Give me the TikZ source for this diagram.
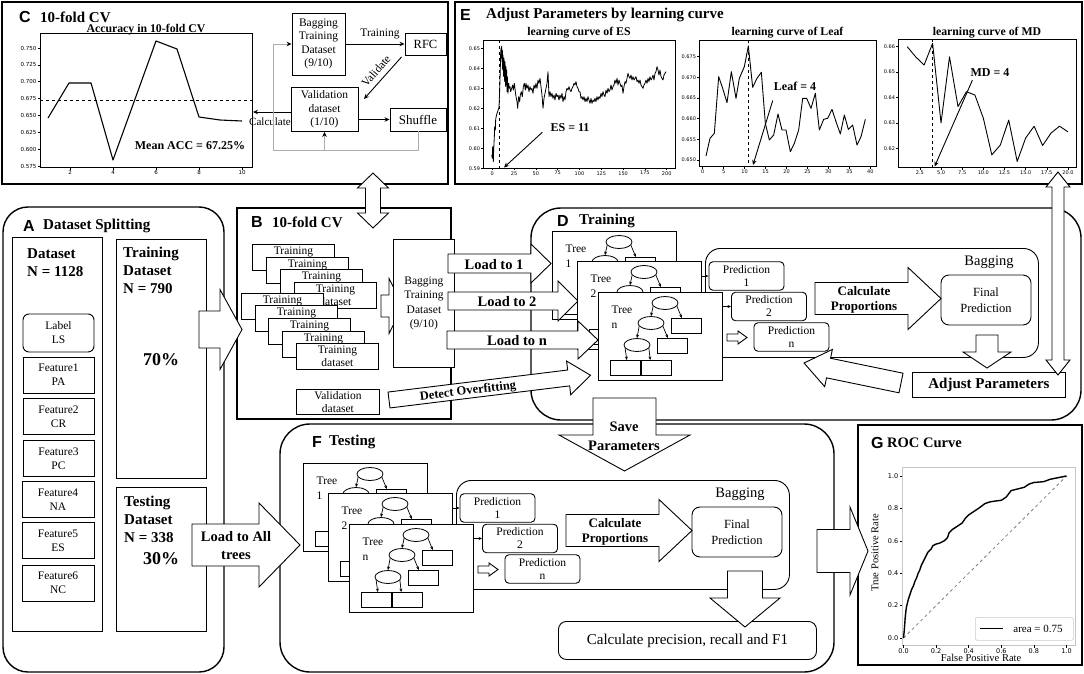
\documentclass[tikz,border=0pt]{standalone}
\usepackage{fontspec}
\setmainfont{Liberation Serif}
\newfontfamily\lsans{Liberation Sans}
\newfontfamily\djv{DejaVu Sans}
\usetikzlibrary{shapes.geometric, arrows.meta}
\newcommand\fsz[2]{\fontsize{#1}{#2}\selectfont}
\tikzset{
  bx/.style={draw, line width=0.9pt, fill=white, inner sep=0pt, align=center},
  pnl/.style={draw, line width=1.4pt},
  lettr/.style={font=\lsans\bfseries\fsz{16}{18}, inner sep=0pt, anchor=west},
  ttl/.style={font=\bfseries\fsz{15}{18}, inner sep=0pt, anchor=west},
  tx/.style={inner sep=0pt, align=center},
  arr/.style={-{Stealth[length=5pt,width=4.5pt]}, line width=0.9pt},
  tarr/.style={-{Stealth[length=3.5pt,width=3pt]}, line width=0.7pt},
  loopc/.style={draw=gray!65, line width=0.9pt},
  ell/.style={draw, ellipse, minimum width=26, minimum height=13, inner sep=0pt, line width=0.8pt, fill=white},
  lf/.style={draw, rectangle, minimum width=30, minimum height=15, inner sep=0pt, line width=0.8pt, fill=white, anchor=north west},
  predb/.style={draw, rounded corners=4, minimum width=75, minimum height=28.5, fill=white, line width=0.9pt, inner sep=0pt, align=center, font=\fsz{11.5}{13}},
  stk/.style={bx, minimum width=82, minimum height=26, anchor=north west, font=\fsz{11.5}{13.5}},
  tklab/.style={font=\djv\fsz{5.5}{6.5}, inner sep=0.8pt},
  tklabe/.style={font=\djv\fsz{5}{6}, inner sep=0.8pt},
  tklabr/.style={font=\djv\fsz{6.5}{7.5}, inner sep=1pt},
  crv/.style={line width=0.9pt, line join=round},
  ctitle/.style={font=\bfseries\fsz{11.8}{13}, inner sep=0pt},
  pics/barrow/.style n args={4}{code={
    \draw[line width=0.9pt, fill=white] (0,-#2) -- (#3,-#2) -- (#3,-#4) -- (#1,0) -- (#3,#4) -- (#3,#2) -- (0,#2) -- cycle;}},
  pics/dbarrow/.style n args={4}{code={
    \draw[line width=0.9pt, fill=white] (0,0) -- (#3,-#4) -- (#3,-#2) -- ({#1-#3},-#2) -- ({#1-#3},-#4) -- (#1,0) -- ({#1-#3},#4) -- ({#1-#3},#2) -- (#3,#2) -- (#3,#4) -- cycle;}},
  pics/tree/.style={code={
    \node[bx, minimum width=124, minimum height=88, anchor=north west] (-box) at (0,0) {};
    \node[tx, align=left, font=\fsz{11.5}{15}] (-lab) at (24,25.5) {Tree\\#1};
    \node[ell] (-e1) at (67,11) {};
    \node[ell] (-e2) at (53,31) {};
    \node[lf] (-ra) at (73,26) {};
    \node[ell] (-e3) at (39,53) {};
    \node[lf] (-rb) at (59,46) {};
    \node[lf] (-rc) at (12,68) {};
    \node[lf] (-rd) at (43,68) {};
    \draw[tarr] (-e1.195) -- (-e2.north);
    \draw[tarr] (-e1.345) -- (-ra.120);
    \draw[tarr] (-e2.195) -- (-e3.north);
    \draw[tarr] (-e2.345) -- (-rb.120);
    \draw[tarr] (-e3.195) -- (-rc.80);
    \draw[tarr] (-e3.345) -- (-rd.128);
  }}
}
\newcommand\cluster[3]{%
  \node[draw, line width=0.9pt, rounded corners=15, minimum width=333, minimum height=109, anchor=north west, inner sep=0pt] (#1bagc) at (705,248) {};
  \node[predb] (#1pred1) at (746.5,276) {Prediction\\1};
  \node[predb] (#1pred2) at (769,306.5) {Prediction\\2};
  \node[predb] (#1predn) at (791.5,337) {Prediction\\n};
  \node[tx, font=\fsz{14.5}{16}] (#1baglab) at (989,262) {Bagging};
  \node[draw, line width=0.9pt, rounded corners=8, minimum width=90, minimum height=50, inner sep=0pt, align=center, font=\fsz{12.5}{16}, fill=white] (#1finp) at (986,300) {Final\\Prediction};
  \pic at (815,298.5) {barrow={126}{16}{93}{31}};
  \node[tx, font=\bfseries\fsz{13}{15}] (#1calcp) at (864,299.5) {Calculate\\Proportions};
  \pic (#1t1) at (552,231) {tree=1};
  #2
  \draw[tarr] (#1t1-box.east |- #1pred1.west) -- (#1pred1.west);
  \pic (#1t2) at (577,261) {tree=2};
  #3
  \draw[tarr] (#1t2-box.east |- #1pred2.west) -- (#1pred2.west);
  \pic (#1tn) at (598,292) {tree=n};
  \pic at (727,337.5) {barrow={20}{3.5}{11}{6.5}};
}
\begin{document}
\begin{tikzpicture}[x=1pt,y=-1pt]
\useasboundingbox (0,0) rectangle (1084,674);
\fill[white] (0,0) rectangle (1084,674);

% ================= Panel C
\draw[pnl] (2,2) rectangle (448,184);
\node[lettr] (lC) at (19,17) {C};
\node[ttl] (tC) at (40,17) {10-fold CV};
\node[ctitle] (cttl) at (146,29.5) {Accuracy in 10-fold CV};
\draw[line width=0.8pt] (40,33) rectangle (252,167);
\foreach \k/\lab in {0/0.575,1/0.600,2/0.625,3/0.650,4/0.675,5/0.700,6/0.725,7/0.750}
  \draw[line width=0.6pt] (40,{166-16.857*\k}) -- (37.5,{166-16.857*\k}) node[tklab, anchor=east] (cy\k) {\lab};
\foreach \xx/\lab in {70/2,113/4,156/6,199/8,242/10}
  \draw[line width=0.6pt] (\xx,167) -- (\xx,169.5) node[tklab, anchor=north] (cx\lab) {\lab};
\draw[crv, line width=1.1pt] (48,118) -- (69,83) -- (91,83) -- (113,160) -- (156,41) -- (177,49) -- (199,117) -- (220,120) -- (242,121);
\draw[dashed, line width=1pt] (40,101) -- (252,101);
\node[tx, font=\bfseries\fsz{12}{14}] (macc) at (190,146) {Mean ACC = 67.25\%};

\node[bx, minimum width=53, minimum height=62, font=\fsz{11.5}{13.5}] (cbag) at (318.5,44) {Bagging\\Training\\Dataset\\(9/10)};
\node[bx, minimum width=41, minimum height=22, font=\fsz{12.5}{14}] (rfc) at (425.5,44) {RFC};
\node[bx, minimum width=67, minimum height=44, font=\fsz{11.5}{13.5}] (cval) at (324.5,109.5) {Validation\\dataset\\(1/10)};
\node[bx, minimum width=56, minimum height=23, font=\fsz{13}{15}] (shuf) at (418,119.5) {Shuffle};
\draw[arr] (cbag.east) -- (rfc.west);
\node[tx, font=\fsz{11.5}{13}] (trlab) at (380,34) {Training};
\coordinate (vtip) at (364,99);
\draw[arr] ([xshift=-3pt,yshift=-1.5pt]rfc.south west) -- (vtip);
\node[tx, rotate=49, font=\fsz{11.5}{13}] (vallab) at (376,71) {Validate};
\draw[arr] (cval.east |- shuf.west) -- (shuf.west);
\coordinate (calctip) at (253,112);
\draw[arr] (cval.west |- calctip) -- (calctip);
\node[tx, font=\fsz{11}{13}] (calclab) at (270,122) {Calculate};
\coordinate (loopy) at (273,150);
\draw[loopc, -{Stealth[length=5pt,width=4.5pt,color=black]}] (shuf.south) |- (loopy) |- (cbag.west);
\draw[loopc, -{Stealth[length=5pt,width=4.5pt,color=black]}] (cval.south |- loopy) -- (cval.south);

% ================= Panel E
\draw[pnl] (455,2) rectangle (1082,184);
\node[lettr] (lE) at (460,15) {E};
\node[ttl] (tE) at (486,15) {Adjust Parameters by learning curve};
\node[ctitle] (esT) at (579,33) {learning curve of ES};
\node[ctitle] (leafT) at (787.5,33) {learning curve of Leaf};
\node[ctitle] (mdT) at (987,33) {learning curve of MD};
% ES
\draw[line width=0.8pt] (483,40) rectangle (675,168.3);
\foreach \k/\lab in {0/0.59,1/0.60,2/0.61,3/0.62,4/0.63,5/0.64,6/0.65}
  \draw[line width=0.5pt] (483,{168.3-20*\k}) -- (481,{168.3-20*\k}) node[tklabe, anchor=east] (esy\k) {\lab};
\foreach \k/\lab in {0/0,1/25,2/50,3/75,4/100,5/125,6/150,7/175,8/200}
  \draw[line width=0.5pt] ({492.3+21.8*\k},168.3) -- ({492.3+21.8*\k},170.3) node[tklabe, anchor=north] (esx\k) {\lab};
\begin{scope}[shift={(480,30)}, xscale=1/3, yscale=1/3]
\draw[crv, line width=0.8pt] plot coordinates {(35,375) (37,385) (38,350) (40,395) (41,360) (43,320) (44,290) (46,300) (47,268) (49,258) (51,250) (53,245) (55,238) (57,232) (59,180) (60,150) (61,110) (62,70) (63,55) (64,85) (65,48) (66,95) (67,60) (68,120) (69,75) (70,100) (71,140) (72,85) (73,110) (74,155) (75,95) (76,130) (77,170) (78,110) (79,150) (80,120) (81,185) (82,140) (84,190) (86,160) (88,175) (90,170) (92,185) (95,175) (98,165) (100,180) (103,160) (106,185) (108,200) (111,215) (113,235) (116,200) (119,215) (121,195) (124,185) (127,200) (130,170) (133,160) (136,180) (138,160) (141,175) (144,165) (147,185) (150,170) (153,180) (156,175) (159,190) (162,165) (165,175) (168,160) (171,175) (174,150) (177,160) (180,145) (183,170) (186,195) (189,235) (192,205) (195,190) (198,175) (201,160) (204,125) (207,200) (210,185) (213,200) (216,190) (219,205) (222,195) (225,210) (228,190) (231,200) (234,195) (237,210) (240,195) (243,205) (246,190) (249,215) (252,200) (255,210) (258,185) (261,175) (264,180) (267,170) (270,180) (273,185) (276,175) (279,170) (282,160) (285,165) (288,155) (291,170) (294,175) (297,185) (300,185) (303,205) (306,200) (309,210) (312,200) (315,215) (318,205) (321,215) (324,200) (327,210) (330,220) (333,205) (336,220) (339,210) (342,215) (345,205) (348,215) (351,200) (354,210) (357,200) (360,205) (363,190) (366,200) (369,185) (372,195) (375,200) (378,180) (381,190) (384,175) (387,185) (390,180) (393,165) (396,180) (399,170) (402,165) (405,150) (408,160) (411,145) (414,165) (417,150) (420,160) (423,170) (426,165) (429,190) (432,170) (435,155) (438,160) (441,145) (444,130) (447,140) (450,145) (453,135) (456,150) (459,140) (462,150) (465,145) (468,140) (471,155) (474,150) (477,160) (480,150) (483,165) (486,170) (489,175) (492,165) (495,160) (498,150) (501,160) (504,145) (507,155) (510,140) (513,150) (516,145) (519,135) (522,150) (525,130) (528,125) (531,110) (534,120) (537,135) (540,120) (543,140) (546,145) (549,150) (552,135) (555,130) (558,125)};
\end{scope}
\draw[dashed, line width=0.9pt] (499.5,40) -- (499.5,168.3);
\node[tx, font=\bfseries\fsz{12}{14}] (esl) at (570,128) {ES = 11};
\coordinate (estip) at (504,167.5);
\draw[arr] ([xshift=-8pt]esl.south west) -- (estip);
% Leaf
\draw[line width=0.8pt] (699,40) rectangle (876,166.7);
\foreach \k/\lab in {0/0.650,1/0.655,2/0.660,3/0.665,4/0.670,5/0.675}
  \draw[line width=0.5pt] (699,{160-20.67*\k}) -- (697,{160-20.67*\k}) node[tklabe, anchor=east] (lfy\k) {\lab};
\foreach \k/\lab in {0/0,1/5,2/10,3/15,4/20,5/25,6/30,7/35,8/40}
  \draw[line width=0.5pt] ({702.7+20.95*\k},166.7) -- ({702.7+20.95*\k},168.7) node[tklabe, anchor=north] (lfx\k) {\lab};
\begin{scope}[shift={(676,30)}, xscale=1/3, yscale=1/3]
\draw[crv, line width=0.9pt] plot coordinates {(90,378) (102,325) (115,310) (128,140) (140,175) (153,218) (166,125) (180,205) (190,145) (205,110) (217,48) (230,172) (243,145) (256,127) (268,280) (280,330) (293,315) (306,252) (318,300) (330,300) (343,365) (355,340) (368,300) (380,205) (392,205) (405,235) (418,190) (430,300) (443,268) (455,265) (468,238) (480,275) (493,312) (505,255) (517,298) (530,285) (543,345) (555,320) (568,268)};
\end{scope}
\draw[dashed, line width=0.9pt] (748.7,40) -- (748.7,166.7);
\node[tx, font=\bfseries\fsz{12}{14}] (leafl) at (795,86) {Leaf = 4};
\coordinate (leaftip) at (753,165);
\draw[arr] ([xshift=-1pt,yshift=-10pt]leafl.south west) -- (leaftip);
% MD
\draw[line width=0.8pt] (898,39) rectangle (1076,167.5);
\foreach \k/\lab in {0/0.66,1/0.65,2/0.64,3/0.63,4/0.62}
  \draw[line width=0.5pt] (898,{46.7+25.4*\k}) -- (896,{46.7+25.4*\k}) node[tklabe, anchor=east] (mdy\k) {\lab};
\foreach \k/\lab in {0/2.5,1/5.0,2/7.5,3/10.0,4/12.5,5/15.0,6/17.5,7/20.0}
  \draw[line width=0.5pt] ({919.9+21.15*\k},167.5) -- ({919.9+21.15*\k},169.5) node[tklabe, anchor=north] (mdx\k) {\lab};
\draw[crv, line width=0.9pt] (907.2,46.7) -- (915.7,56.9) -- (924.1,65.0) -- (932.6,43.4) -- (941.0,122.9) -- (949.5,56.9) -- (958.0,106.6) -- (966.4,91.7) -- (974.9,95.0) -- (983.3,118.1) -- (991.8,154.9) -- (1000.3,145.0) -- (1008.7,120.1) -- (1017.2,161.5) -- (1025.6,138.1) -- (1034.1,126.2) -- (1042.6,145.5) -- (1051.0,133.1) -- (1059.5,126.2) -- (1067.9,131.8);
\draw[dashed, line width=0.9pt] (932.6,39) -- (932.6,167.5);
\node[tx, font=\bfseries\fsz{12}{14}] (mdl) at (990,73) {MD = 4};
\coordinate (mdtip) at (934.6,166.5);
\draw[arr] ([xshift=2pt,yshift=-3pt]mdl.south west) -- (mdtip);

% ================= Panel A
\draw[pnl, rounded corners=25] (3,207) rectangle (224,672);
\node[lettr] (lA) at (23,226) {A};
\node[ttl] (tA) at (43,226) {Dataset Splitting};
\draw[line width=0.9pt] (12,237) rectangle (102,631);
\node[tx, align=left, anchor=west, font=\bfseries\fsz{15}{18}] (dsl) at (27,263) {Dataset\\N = 1128};
\node[bx, rounded corners=6, minimum width=71, minimum height=38, font=\fsz{11.5}{14}] (flab) at (58.5,333) {Label\\LS};
\node[bx, minimum width=71, minimum height=36, font=\fsz{11.5}{14}] (f1) at (58.5,375) {Feature1\\PA};
\node[bx, minimum width=71, minimum height=36, font=\fsz{11.5}{14}] (f2) at (58.5,416.5) {Feature2\\CR};
\node[bx, minimum width=71, minimum height=36, font=\fsz{11.5}{14}] (f3) at (58.5,458.5) {Feature3\\PC};
\node[bx, minimum width=72, minimum height=36, font=\fsz{11.5}{14}] (f4) at (58,499.5) {Feature4\\NA};
\node[bx, minimum width=72, minimum height=36, font=\fsz{11.5}{14}] (f5) at (58,540.5) {Feature5\\ES};
\node[bx, minimum width=72, minimum height=36, font=\fsz{11.5}{14}] (f6) at (58,583) {Feature6\\NC};
\draw[line width=0.9pt] (116,239) rectangle (206,478);
\node[tx, align=left, anchor=west, font=\bfseries\fsz{15}{18}] (trd) at (123,270) {Training\\Dataset\\N = 790};
\node[tx, font=\bfseries\fsz{18}{20}] (p70) at (161,360) {70\%};
\draw[line width=0.9pt] (116,487) rectangle (206,631);
\node[tx, align=left, anchor=west, font=\bfseries\fsz{15}{18}] (ted) at (124,519) {Testing\\Dataset\\N = 338};
\node[tx, font=\bfseries\fsz{18}{20}] (p30) at (161,559) {30\%};

% ================= Panel B
\draw[pnl] (237,208) rectangle (451,419);
\node[lettr] (lB) at (251,222) {B};
\node[ttl] (tB) at (272,222) {10-fold CV};
\foreach \i/\x/\y in {1/252/244, 2/266/257, 3/280/269}
  \node[stk] (tr\i) at (\x,\y) {Training\\\phantom{dataset}};
\node[stk] (tr4) at (294,282) {Training\\dataset};
\foreach \i/\x/\y in {5/241/293, 6/255/305, 7/268/318, 8/282/331}
  \node[stk] (tr\i) at (\x,\y) {Training\\\phantom{dataset}};
\node[stk] (tr9) at (296,343) {Training\\dataset};
\node[bx, minimum width=83, minimum height=25, anchor=north west, font=\fsz{11.5}{13.5}] (bval) at (296,389) {Validation\\dataset};
\pic at (381,306) {barrow={22}{11}{8}{27.5}};
\node[bx, minimum width=61, minimum height=128, anchor=north west, font=\fsz{11.5}{14.5}] (bbag) at (393,239) {Bagging\\Training\\Dataset\\(9/10)};

% A -> B arrow
\pic at (199,329.5) {barrow={43}{18.5}{21}{40}};

% ================= Panel D
\draw[pnl, rounded corners=30] (531,208) rectangle (1081,420);
\node[lettr] (lD) at (557,221) {D};
\node[ttl] (tD) at (579,221) {Training};
\cluster{d}{%
  \pic at (448,263.5) {barrow={103}{9.5}{83}{19.5}};
  \node[tx, font=\bfseries\fsz{14.5}{16}] (ld1) at (494,264.5) {Load to 1};
  \pic at (448,301) {barrow={130}{9}{110}{20}};
  \node[tx, font=\bfseries\fsz{14.5}{16}] (ld2) at (507,302) {Load to 2};
}{%
  \pic at (447,340) {barrow={151}{9}{131}{19}};
  \node[tx, font=\bfseries\fsz{14.5}{16}] (ldn) at (517,341) {Load to n};
}
\pic[rotate=7] at (389,400) {barrow={203}{8}{181}{17}};
\node[tx, rotate=7, font=\bfseries\fsz{12.5}{14}] (dov) at (468,391.5) {Detect Overfitting};
\node[bx, minimum width=153, minimum height=25, anchor=north west, font=\bfseries\fsz{15}{17}] (adj) at (912,372) {Adjust Parameters};
\pic[rotate=-90] at (987,335) {barrow={33}{11}{17}{24}};
\pic[rotate=168.35] at (901,383) {barrow={99}{10}{74}{19}};

% ================= Panel F
\draw[pnl, rounded corners=30] (280,424) rectangle (834,672);
\node[lettr] (lF) at (312,442) {F};
\node[ttl] (tF) at (329,442) {Testing};
\begin{scope}[shift={(-249,232)}]
\cluster{f}{}{}
\end{scope}
\node[bx, rounded corners=8, minimum width=258, minimum height=38, anchor=north west, font=\fsz{15}{17}] (cpr) at (558,621) {Calculate precision, recall and F1};
\pic[rotate=-90] at (745,571) {barrow={56}{17.5}{27}{35}};
\pic at (192,545) {barrow={108}{21}{67}{42}};
\node[tx, font=\bfseries\fsz{14.5}{18}] (lat) at (236,546) {Load to All\\trees};

% Save parameters
\pic[rotate=-90] at (624.5,398) {barrow={73}{31.5}{37}{65.5}};
\node[tx, font=\bfseries\fsz{14.5}{19}] (savep) at (624,436.5) {Save\\Parameters};

% ================= Panel G
\draw[pnl] (858,425) rectangle (1082,665);
\node[lettr] (lG) at (871,443) {G};
\node[ttl, font=\bfseries\fsz{14.5}{17}] (tG) at (887,443) {ROC Curve};
\draw[gray!45, line width=0.8pt] (902,467) rectangle (1075,645);
\foreach \k/\lab in {0/0.0,1/0.2,2/0.4,3/0.6,4/0.8,5/1.0} {
  \draw[line width=0.5pt] (902,{638-32.4*\k}) -- (899.5,{638-32.4*\k}) node[tklabr, anchor=east] (rocy\k) {\lab};
  \draw[line width=0.5pt] ({903.5+32.6*\k},645) -- ({903.5+32.6*\k},647.5) node[tklabr, anchor=north] (rocx\k) {\lab};
}
\draw[dashed, gray, line width=0.8pt] (903.5,638) -- (1066.5,476);
\begin{scope}[shift={(903.5,638)}, xscale=163, yscale=-162]
\draw[crv, line width=1.4pt] plot coordinates {(0,0) (0.005,0.05) (0.01,0.12) (0.015,0.17) (0.02,0.2) (0.03,0.24) (0.04,0.27) (0.05,0.3) (0.06,0.32) (0.07,0.35) (0.08,0.37) (0.09,0.4) (0.1,0.42) (0.11,0.45) (0.12,0.47) (0.13,0.49) (0.14,0.51) (0.15,0.53) (0.17,0.55) (0.18,0.57) (0.2,0.58) (0.22,0.585) (0.25,0.6) (0.27,0.62) (0.28,0.65) (0.3,0.67) (0.33,0.69) (0.36,0.71) (0.38,0.74) (0.4,0.76) (0.43,0.78) (0.46,0.8) (0.5,0.83) (0.53,0.84) (0.56,0.845) (0.6,0.85) (0.63,0.87) (0.66,0.91) (0.7,0.92) (0.74,0.93) (0.77,0.95) (0.8,0.96) (0.86,0.965) (0.9,0.98) (0.95,0.99) (1,1)};
\end{scope}
\node[tx, font=\fsz{10.5}{12}] (xlab) at (981,658) {False Positive Rate};
\node[tx, rotate=90, font=\fsz{10.5}{12}] (ylab) at (875,553) {True Positive Rate};
\node[draw=gray!40, rounded corners=2, line width=0.6pt, minimum width=98, minimum height=23, anchor=north west, inner sep=0pt] (leg) at (975,617) {};
\draw[line width=1.4pt] (980,628.5) -- (1003,628.5);
\node[tx, font=\fsz{11}{13}] (legt) at (1038,628.5) {area = 0.75};
\pic at (817,551) {barrow={51}{21.5}{33}{44}};

% double arrows
\pic[rotate=-90] at (373,173) {dbarrow={55}{7.5}{15}{15.5}};
\pic[rotate=-90] at (1058,172) {dbarrow={203}{6}{15}{12}};
\end{tikzpicture}
\end{document}
